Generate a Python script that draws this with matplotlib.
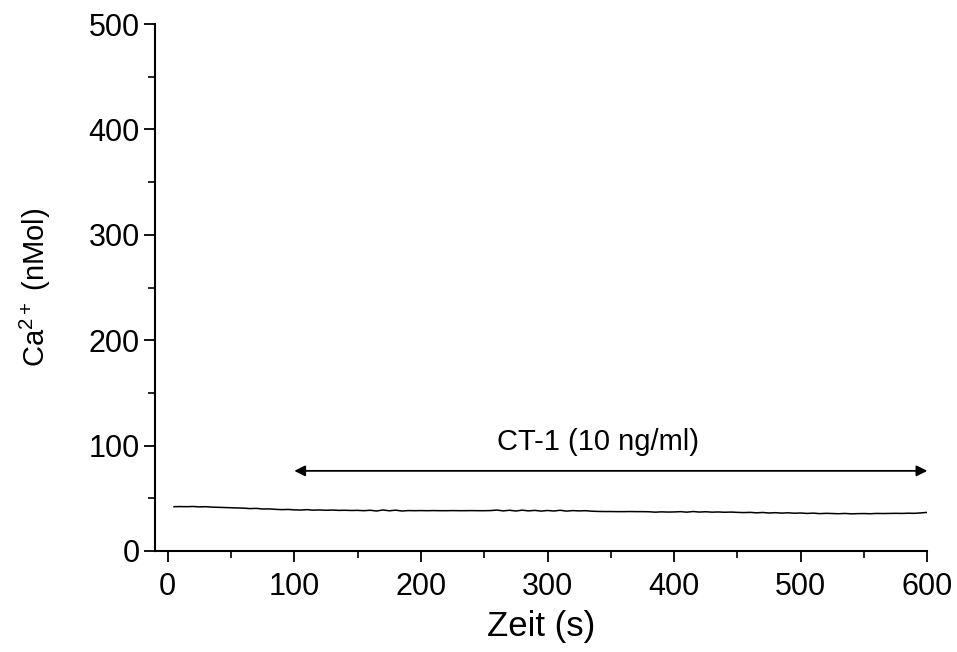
import numpy as np
import matplotlib.pyplot as plt
from matplotlib.ticker import MultipleLocator

plt.rcParams['font.family'] = ['Liberation Sans', 'DejaVu Sans']
plt.rcParams['mathtext.fontset'] = 'custom'
plt.rcParams['mathtext.rm'] = 'Liberation Sans'
plt.rcParams['mathtext.it'] = 'Liberation Sans'

# Ca2+ trace, one sample every 5 s
time_s = np.arange(5, 601, 5)
ca_nmol = [
    42.0, 42.1, 42.0, 42.2, 41.8, 42.0, 41.6, 41.4, 41.2, 41.0,
    40.8, 40.6, 40.2, 40.4, 39.8, 39.9, 39.5, 39.2, 39.4, 39.0,
    38.8, 39.2, 38.7, 38.9, 38.6, 38.8, 38.5, 38.6, 38.4, 38.5,
    38.2, 38.6, 37.9, 38.9, 38.1, 38.7, 37.9, 38.3, 38.2, 38.3,
    38.2, 38.3, 38.2, 38.2, 38.3, 38.2, 38.2, 38.3, 38.2, 38.2,
    38.3, 38.8, 38.0, 38.6, 37.9, 38.7, 38.0, 38.5, 37.8, 38.4,
    37.9, 38.6, 37.8, 38.3, 38.0, 38.2, 37.7, 37.5, 37.4, 37.4,
    37.3, 37.3, 37.4, 37.3, 37.3, 37.2, 36.8, 37.1, 36.9, 37.0,
    37.3, 36.8, 37.4, 36.9, 37.2, 36.8, 37.0, 36.7, 36.9, 36.6,
    36.4, 36.6, 36.2, 36.5, 36.0, 36.3, 35.9, 36.2, 35.8, 36.0,
    35.6, 35.9, 35.4, 35.7, 35.5, 35.3, 35.6, 35.2, 35.4, 35.5,
    35.3, 35.6, 35.5, 35.6, 35.7, 35.6, 35.8, 35.7, 36.1, 36.6,
]

# treatment window
treat_start, treat_end = 100, 600
treat_label = "CT-1 (10 ng/ml)"

fig = plt.figure(figsize=(9.57, 6.52), dpi=100)
ax = fig.add_axes([0.162, 0.155, 0.807, 0.808])

ax.plot(time_s, ca_nmol, color='black', lw=1.1)

ax.annotate('', xy=(treat_start, 76), xytext=(treat_end, 76),
            arrowprops=dict(arrowstyle='<|-|>', color='black', lw=1.3,
                            mutation_scale=16, shrinkA=0, shrinkB=0))
ax.text((treat_start + treat_end) / 2 - 10, 90, treat_label,
        ha='center', va='bottom', fontsize=21)

ax.set_xlim(-10, 600)
ax.set_ylim(0, 500)
ax.xaxis.set_major_locator(MultipleLocator(100))
ax.xaxis.set_minor_locator(MultipleLocator(50))
ax.yaxis.set_major_locator(MultipleLocator(100))
ax.yaxis.set_minor_locator(MultipleLocator(50))

for side in ['top', 'right']:
    ax.spines[side].set_visible(False)
for side in ['left', 'bottom']:
    ax.spines[side].set_linewidth(1.5)

ax.tick_params(which='major', length=8, width=1.3, labelsize=22)
ax.tick_params(axis='x', which='major', pad=7)
ax.tick_params(axis='y', which='major', pad=3)
ax.tick_params(which='minor', length=5, width=1.2)

ax.set_xlabel("Zeit (s)", fontsize=25, labelpad=6)
ax.set_ylabel(r"Ca$^{2+}$ (nMol)", fontsize=21)
ax.yaxis.set_label_coords(-0.132, 0.5)

fig.savefig("out.png", dpi=100, facecolor='white')
